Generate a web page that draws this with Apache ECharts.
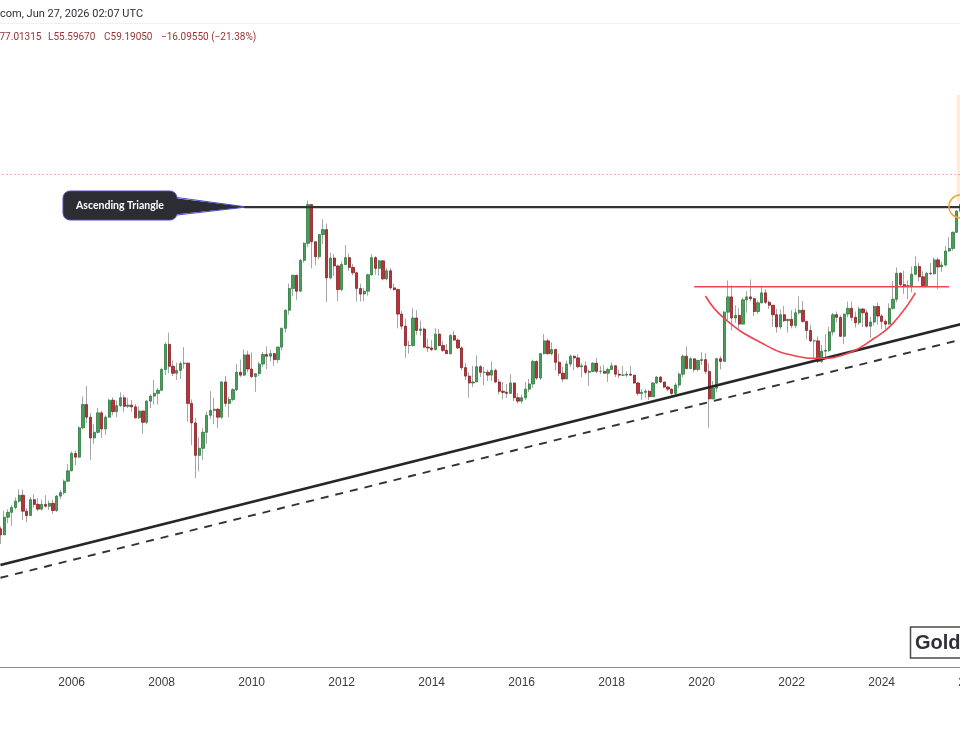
<!DOCTYPE html>
<html>
<head>
<meta charset="utf-8">
<script src="https://cdn.jsdelivr.net/npm/echarts@6/dist/echarts.min.js"></script>
<style>
  html, body { margin: 0; padding: 0; background: #fff; }
  #chart { width: 960px; height: 750px; }
</style>
</head>
<body>
<div id="chart"></div>
<script>
// monthly candles, Jun 2004 .. Oct 2025
const open = [
  6.09,5.86,6.56,6.77,6.98,7.27,7.55,
  6.82,6.63,7.34,7.12,6.91,7.12,7.04,7.17,6.85,7.51,7.68,8.26,
  8.83,9.87,9.64,11.63,13.50,12.45,10.90,11.30,12.80,11.55,12.45,13.88,
  12.90,13.40,14.10,13.35,13.45,13.30,12.40,12.95,12.05,13.80,14.25,14.50,
  14.80,16.90,19.85,17.25,16.50,16.80,17.55,17.60,13.60,12.00,9.75,10.20,
  11.30,12.60,13.00,13.10,12.45,15.60,13.60,13.95,14.85,16.60,16.30,18.55,
  16.95,16.15,16.45,17.50,18.60,18.40,18.70,18.00,19.50,22.00,24.70,28.40,
  30.90,27.90,34.00,37.90,48.60,38.30,34.80,40.10,41.40,30.40,34.50,32.80,
  28.20,33.10,34.60,32.50,31.40,28.40,27.40,27.90,31.00,34.60,32.30,33.90,
  30.20,31.80,28.50,28.20,24.10,22.30,19.70,19.70,23.50,21.70,21.90,19.50,
  19.40,19.20,21.20,19.70,19.10,18.70,21.00,20.40,19.40,17.10,16.20,15.50,
  15.60,17.20,16.60,16.60,16.30,16.80,15.60,14.70,14.60,14.50,15.50,14.10,
  13.80,14.10,14.90,15.40,17.80,16.00,18.70,20.30,18.70,19.20,17.70,16.50,
  15.90,17.50,18.40,18.20,17.20,17.30,16.60,16.70,17.60,16.70,16.70,16.50,
  16.90,17.30,16.40,16.30,16.30,16.40,16.30,15.50,14.50,14.60,14.70,14.20,
  15.50,16.10,15.60,15.10,14.90,14.50,15.30,16.40,18.40,17.00,18.10,16.90,
  17.90,18.00,16.70,14.00,15.00,18.10,17.80,24.40,26.90,23.50,23.90,22.60,
  26.40,26.90,26.60,24.50,25.90,27.60,26.00,25.50,24.00,22.20,24.00,23.10,
  23.30,22.40,24.30,24.70,23.00,21.70,20.30,20.30,17.80,19.00,19.10,21.50,
  24.00,23.60,20.90,24.10,25.00,23.60,22.80,24.90,24.30,22.30,22.90,25.30,
  23.80,23.00,22.60,25.00,26.50,31.30,29.10,28.90,28.90,31.10,32.70,30.60,
  28.90,31.30,31.20,34.10,32.60,33.00,36.10,36.70,40.70,46.60
];
const close = [
  5.86,6.56,6.77,6.98,7.27,7.55,6.82,
  6.63,7.34,7.12,6.91,7.12,7.04,7.17,6.85,7.51,7.68,8.26,8.83,
  9.87,9.64,11.63,13.50,12.45,10.90,11.30,12.80,11.55,12.45,13.88,12.90,
  13.40,14.10,13.35,13.45,13.30,12.40,12.95,12.05,13.80,14.25,14.50,14.80,
  16.90,19.85,17.25,16.50,16.80,17.55,17.60,13.60,12.00,9.75,10.20,11.30,
  12.60,13.00,13.10,12.45,15.60,13.60,13.95,14.85,16.60,16.30,18.55,16.95,
  16.15,16.45,17.50,18.60,18.40,18.70,18.00,19.50,22.00,24.70,28.40,30.90,
  27.90,34.00,37.90,48.60,38.30,34.80,40.10,41.40,30.40,34.50,32.80,28.20,
  33.10,34.60,32.50,31.40,28.40,27.40,27.90,31.00,34.60,32.30,33.90,30.20,
  31.80,28.50,28.20,24.10,22.30,19.70,19.70,23.50,21.70,21.90,19.50,19.40,
  19.20,21.20,19.70,19.10,18.70,21.00,20.40,19.40,17.10,16.20,15.50,15.60,
  17.20,16.60,16.60,16.30,16.80,15.60,14.70,14.60,14.50,15.50,14.10,13.80,
  14.10,14.90,15.40,17.80,16.00,18.70,20.30,18.70,19.20,17.70,16.50,15.90,
  17.50,18.40,18.20,17.20,17.30,16.60,16.70,17.60,16.70,16.70,16.50,16.90,
  17.30,16.40,16.30,16.30,16.40,16.30,15.50,14.50,14.60,14.70,14.20,15.50,
  16.10,15.60,15.10,14.90,14.50,15.30,16.40,18.40,17.00,18.10,16.90,17.90,
  18.00,16.70,14.00,15.00,18.10,17.80,24.40,26.90,23.50,23.90,22.60,26.40,
  26.90,26.60,24.50,25.90,27.60,26.00,25.50,24.00,22.20,24.00,23.10,23.30,
  22.40,24.30,24.70,23.00,21.70,20.30,20.30,17.80,19.00,19.10,21.50,24.00,
  23.60,20.90,24.10,25.00,23.60,22.80,24.90,24.30,22.30,22.90,25.30,23.80,
  23.00,22.60,25.00,26.50,31.30,29.10,28.90,28.90,31.10,32.70,30.60,28.90,
  31.30,31.20,34.10,32.60,33.00,36.10,36.70,40.70,46.60,48.70
];
const high = [
  6.19,6.84,6.90,7.09,7.45,7.84,7.82,
  6.95,7.47,7.60,7.42,7.35,7.55,7.30,7.33,7.56,7.82,8.35,9.23,
  10.00,10.05,11.75,14.20,15.20,12.80,11.90,13.20,12.95,12.60,14.00,14.15,
  13.85,14.60,14.35,14.10,13.90,13.55,13.35,12.95,13.90,14.40,15.80,15.00,
  17.10,20.10,21.40,17.90,17.65,17.80,19.50,17.65,13.95,12.40,10.95,11.60,
  12.90,14.70,14.10,13.20,15.70,16.20,14.20,15.00,17.50,18.00,19.20,19.05,
  18.85,16.50,17.75,18.90,19.60,19.20,18.80,19.60,22.10,24.90,29.30,31.00,
  31.00,34.30,38.20,49.82,48.70,38.30,40.20,44.20,43.00,35.70,35.40,33.10,
  33.80,37.50,35.50,33.20,31.60,29.30,28.50,31.20,35.40,34.90,34.10,34.00,
  32.40,32.40,29.30,28.40,24.60,23.40,20.30,25.00,24.70,23.10,22.10,20.60,
  20.40,22.00,21.90,20.30,19.90,21.20,21.60,20.60,19.60,17.60,16.60,17.30,
  18.50,17.40,17.20,16.90,17.80,17.00,15.90,15.60,15.40,16.40,15.50,14.50,
  14.40,15.60,15.90,18.00,17.90,18.80,21.20,20.60,20.10,19.30,18.70,17.20,
  17.90,18.60,18.50,18.60,17.60,17.80,16.90,17.70,18.20,17.30,17.40,17.10,
  17.70,17.40,16.90,17.30,16.70,17.30,16.30,15.60,14.90,14.90,14.80,15.60,
  16.20,16.20,15.60,15.20,15.00,15.50,16.60,18.60,19.60,18.30,18.10,18.00,
  18.90,18.80,17.60,15.70,18.20,18.40,24.60,29.90,28.90,25.50,25.00,26.80,
  27.90,30.10,26.80,26.30,28.70,28.30,26.30,25.50,24.90,24.80,25.40,23.40,
  24.70,25.00,27.00,26.20,23.00,22.50,20.50,20.90,19.80,21.20,22.20,24.30,
  24.50,23.90,24.20,26.10,26.10,24.50,25.30,25.00,24.80,23.70,25.50,25.90,
  24.10,23.30,25.80,29.80,32.50,31.50,31.80,29.90,32.70,34.90,33.40,31.70,
  31.60,33.40,34.60,34.60,33.70,37.30,39.50,40.90,47.00,54.50
];
const low = [
  5.53,5.86,6.31,6.20,6.90,7.19,6.44,
  6.35,6.62,6.98,6.82,6.84,6.98,6.87,6.70,6.78,7.36,7.58,8.22,
  8.80,9.15,9.58,11.55,12.00,9.45,10.50,11.20,10.90,11.10,12.40,12.60,
  12.45,13.30,12.85,13.20,12.90,12.35,12.30,11.20,11.90,13.20,13.50,13.50,
  14.70,16.30,16.50,16.20,15.80,15.90,17.00,12.10,10.40,8.42,8.80,9.45,
  10.50,12.30,11.90,11.60,12.30,13.30,12.45,13.80,14.70,16.10,16.20,16.60,
  16.00,14.65,16.20,17.20,16.95,17.80,17.30,17.60,19.10,21.40,24.00,27.00,
  26.40,27.90,33.50,37.00,32.30,33.00,34.30,37.70,26.00,30.10,30.80,26.20,
  27.90,33.00,31.80,30.90,26.10,26.10,26.20,27.10,30.80,31.00,30.80,29.90,
  29.90,28.20,28.00,22.00,21.90,18.20,18.70,19.60,21.10,21.00,19.40,18.90,
  19.00,19.10,19.60,18.90,18.70,18.60,20.30,19.30,16.80,15.80,14.10,15.10,
  15.60,16.10,15.30,15.70,15.70,15.50,14.40,13.95,14.10,14.50,13.80,13.60,
  13.60,13.90,14.60,15.00,15.80,15.80,18.60,18.60,18.50,16.80,16.20,15.60,
  15.90,17.20,16.80,17.00,16.10,16.40,15.20,16.60,16.50,16.40,16.50,15.60,
  16.90,16.10,16.00,16.20,16.10,16.20,15.40,14.30,13.90,14.10,13.90,14.20,
  15.40,15.50,15.00,14.70,14.30,14.30,15.00,16.10,16.90,17.00,16.60,16.70,
  17.40,16.40,11.64,14.00,14.60,16.90,17.80,23.20,21.70,22.80,21.90,22.60,
  24.30,26.10,23.80,24.10,25.80,25.70,24.90,22.20,21.40,21.90,22.90,21.40,
  22.00,22.00,24.00,22.80,20.50,20.10,18.20,17.60,17.60,18.10,18.90,21.00,
  22.80,20.80,19.90,23.60,23.10,22.10,22.50,22.20,22.10,20.70,22.40,22.50,
  21.90,21.90,22.50,24.80,26.00,28.70,27.40,26.50,27.70,30.90,29.70,28.70,
  28.70,31.00,31.00,28.30,31.60,32.70,35.90,36.20,40.60,45.50
];

// drawn levels and lines (price units)
const resistance = 47.79;
const lastPrice = 59.19;
const supportSolid = [['2004-06', 4.83], ['2026-01', 22.99]];
const supportDashed = [['2004-06', 4.45], ['2026-01', 20.81]];
const neckline = [['2019-11', 28.72], ['2025-07', 28.72]];
const cupPoints = [['2020-02', 27.06], ['2020-07', 23.45], ['2021-05', 20.02], ['2022-02', 18.42],
                   ['2022-08', 18.15], ['2023-04', 18.74], ['2023-11', 20.64], ['2024-04', 22.71],
                   ['2024-10', 27.6]];
const targetBand = [49.5, 98];

// month categories Jun 2004 .. Jan 2026
const months = [];
for (let y = 2004, m = 6; y < 2026 || m <= 1; m++) {
  if (m > 12) { m = 1; y++; }
  if (y === 2026 && m > 1) break;
  months.push(y + '-' + String(m).padStart(2, '0'));
}

const wickData = open.map((o, i) => [o, close[i], low[i], high[i]]);
const bodyData = open.map((o, i) => [o, close[i], Math.min(o, close[i]), Math.max(o, close[i])]);

const chart = echarts.init(document.getElementById('chart'));

const hdr = '10px Roboto';
const hdrRed = '#983434';

const option = {
  animation: false,
  backgroundColor: '#ffffff',
  grid: { left: -1.425, right: -13.575, top: 0, bottom: 83, containLabel: false, outerBoundsMode: 'none' },
  xAxis: {
    type: 'category',
    data: months,
    boundaryGap: true,
    axisLine: { lineStyle: { color: '#8c8c8c', width: 1 } },
    axisTick: { show: false },
    splitLine: { show: false },
    axisLabel: {
      interval: (i, v) => v.slice(5) === '01' && (+v.slice(0, 4)) % 2 === 0,
      formatter: v => v.slice(0, 4),
      color: '#3b3b3b',
      fontFamily: 'Liberation Sans',
      fontSize: 12,
      margin: 10
    }
  },
  yAxis: {
    type: 'log',
    min: 2.513,
    max: 180.2,
    show: false,
    splitLine: { show: false }
  },
  series: [
    {
      name: 'wick',
      type: 'candlestick',
      data: wickData,
      barWidth: 1,
      itemStyle: { color: '#a6a6a6', color0: '#a6a6a6', borderColor: '#a6a6a6', borderColor0: '#a6a6a6', borderWidth: 1 },
      markArea: {
        silent: true,
        itemStyle: { color: '#fdebd5' },
        data: [[{ coord: ['2025-09', targetBand[1]] }, { coord: ['2026-01', targetBand[0]] }]]
      },
      markLine: {
        silent: true,
        symbol: 'none',
        label: { show: false },
        lineStyle: { color: '#ef5f6b', width: 1, type: [1, 3] },
        data: [{ yAxis: lastPrice }]
      }
    },
    {
      name: 'body',
      type: 'candlestick',
      data: bodyData,
      barWidth: 2.8,
      itemStyle: { color: '#4a9c5a', color0: '#b5353a', borderColor: '#2f7d40', borderColor0: '#8b1e24', borderWidth: 0.8 }
    },
    {
      type: 'line', data: supportSolid, symbol: 'none', silent: true,
      lineStyle: { color: '#262626', width: 2.8 }
    },
    {
      type: 'line', data: supportDashed, symbol: 'none', silent: true,
      lineStyle: { color: '#333333', width: 1.9, type: [8, 7] }
    },
    {
      type: 'line', data: [['2009-11', resistance], ['2026-01', resistance]], symbol: 'none', silent: true,
      lineStyle: { color: '#333333', width: 2.3 }
    },
    {
      type: 'line', data: neckline, symbol: 'none', silent: true,
      lineStyle: { color: '#f0434f', width: 1.6 }
    },
    {
      type: 'line', data: cupPoints, symbol: 'none', smooth: 0.5, silent: true,
      lineStyle: { color: '#f0434f', width: 1.6 }
    },
    {
      type: 'line', data: [], silent: true,
      markPoint: {
        silent: true,
        symbol: 'circle',
        symbolSize: 23,
        label: { show: false },
        itemStyle: { color: 'rgba(0,0,0,0)', borderColor: '#f5a33b', borderWidth: 1.5 },
        data: [{ coord: ['2025-10', 48.0] }]
      }
    }
  ],
  graphic: [
    // header
    { type: 'line', shape: { x1: 0, y1: 23.5, x2: 960, y2: 23.5 }, style: { stroke: '#eef0f3', lineWidth: 1 } },
    { type: 'text', x: 0, y: 14, style: { text: 'com, Jun 27, 2026 02:07 UTC', font: '11px Roboto', fill: '#2a2e39', textVerticalAlign: 'middle' } },
    { type: 'text', x: -0.5, y: 37.5, style: { text: '77.01315', font: hdr, fill: hdrRed, textVerticalAlign: 'middle' } },
    { type: 'text', x: 48, y: 37.5, style: { text: 'L55.59670', font: hdr, fill: hdrRed, textVerticalAlign: 'middle' } },
    { type: 'text', x: 104, y: 37.5, style: { text: 'C59.19050', font: hdr, fill: hdrRed, textVerticalAlign: 'middle' } },
    { type: 'text', x: 161, y: 37.5, style: { text: '\u221216.09550 (\u221221.38%)', font: hdr, fill: hdrRed, textVerticalAlign: 'middle' } },
    // callout
    { type: 'rect', shape: { x: 63, y: 191, width: 114, height: 29, r: 7 }, style: { fill: '#2b2d33', stroke: '#4a4ad0', lineWidth: 1 } },
    { type: 'polygon', shape: { points: [[170, 197.5], [247, 207], [170, 215]] }, style: { fill: '#2b2d33' } },
    { type: 'polyline', shape: { points: [[177, 197.5], [247, 207], [177, 215]] }, style: { stroke: '#4a4ad0', lineWidth: 1, fill: null } },
    { type: 'text', x: 120, y: 205.5, style: { text: 'Ascending Triangle', font: 'bold 10.5px Lato', fill: '#ffffff', textAlign: 'center', textVerticalAlign: 'middle' } },
    // watermark box
    { type: 'rect', shape: { x: 910.5, y: 627, width: 70, height: 31 }, style: { fill: '#ffffff', stroke: '#4a4a4a', lineWidth: 1.5 } },
    { type: 'text', x: 915, y: 643, style: { text: 'Gold', font: 'bold 20px "Liberation Sans"', fill: '#2f3137', textVerticalAlign: 'middle' } }
  ]
};

chart.setOption(option);
</script>
</body>
</html>
